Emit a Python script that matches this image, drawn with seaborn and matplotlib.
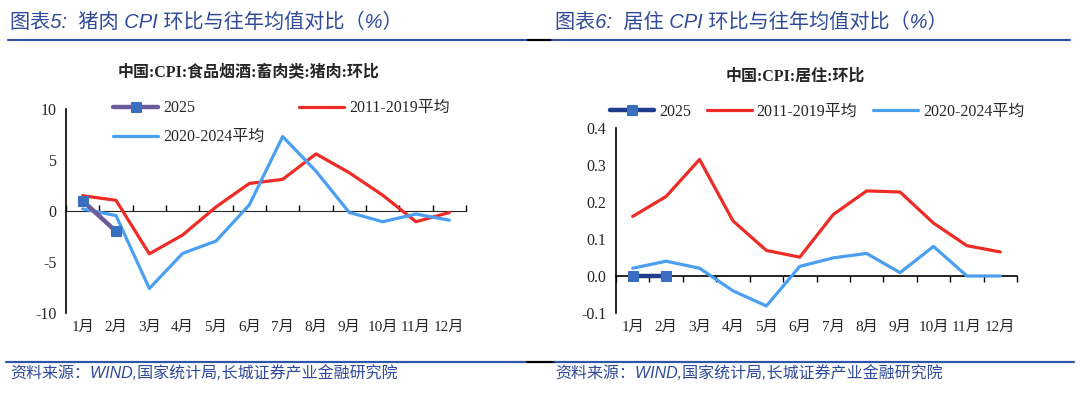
import numpy as np
import pandas as pd
import matplotlib
matplotlib.use("Agg")
import matplotlib.pyplot as plt
import seaborn as sns
from matplotlib.lines import Line2D

# ---- data ----
months = ["1月", "2月", "3月", "4月", "5月", "6月", "7月", "8月", "9月", "10月", "11月", "12月"]

pork_2025 = [1.0, -2.0]
pork_2011_2019 = [1.5, 1.05, -4.2, -2.35, 0.4, 2.7, 3.1, 5.6, 3.75, 1.55, -1.05, -0.15]
pork_2020_2024 = [0.2, -0.45, -7.6, -4.15, -2.95, 0.6, 7.3, 3.9, -0.15, -1.05, -0.3, -0.9]

house_2025 = [0.0, 0.0]
house_2011_2019 = [0.161, 0.215, 0.315, 0.149, 0.069, 0.051, 0.166, 0.230, 0.227, 0.143, 0.082, 0.065]
house_2020_2024 = [0.021, 0.040, 0.021, -0.040, -0.081, 0.026, 0.049, 0.061, 0.009, 0.080, 0.0, 0.0]

header_left = "图表5:  猪肉 CPI 环比与往年均值对比（%）"
header_right = "图表6:  居住 CPI 环比与往年均值对比（%）"
source = "资料来源：WIND,国家统计局,长城证券产业金融研究院"

RED = "#ee2b24"
LBLUE = "#4a9ff0"
NAVY = "#2f4a9a"

sns.set_style("white")
plt.rcParams["font.family"] = ["Liberation Serif", "Noto Sans CJK SC", "DejaVu Sans"]

W, H = 1080, 393
fig = plt.figure(figsize=(W / 100, H / 100), dpi=100)


def px_axes(x0, y_top, x1, y_bot):
    return fig.add_axes([x0 / W, 1 - y_bot / H, (x1 - x0) / W, (y_bot - y_top) / H])


def style_axes(ax, ylim, yticks, ylabels, zero_frac):
    x = np.arange(1, 13)
    ax.set_xlim(0.5, 12.5)
    ax.set_ylim(*ylim)
    ax.set_xticks(x)
    ax.set_xticklabels(months, fontsize=11)
    ax.tick_params(axis="x", length=0, pad=6)
    ax.set_yticks(yticks)
    ax.set_yticklabels(ylabels, fontsize=11.5)
    ax.tick_params(axis="y", direction="out", length=4, width=1, color="black", pad=3)
    for s in ["top", "right", "bottom"]:
        ax.spines[s].set_visible(False)
    ax.spines["left"].set_color("black")
    ax.spines["left"].set_linewidth(1.2)
    # zero axis with category tick marks
    sec = ax.secondary_xaxis(zero_frac)
    sec.set_xticks(np.arange(0.5, 13.0, 1.0))
    sec.set_xticklabels([])
    sec.tick_params(direction="out", length=4, width=1, color="black")
    sec.spines["bottom"].set_color("black")
    sec.spines["bottom"].set_linewidth(1.2)
    ax.set_xlabel("")
    ax.set_ylabel("")


# ---- left chart ----
axL = px_axes(66, 109, 466, 313)
x = np.arange(1, 13)
sns.lineplot(x=x, y=pork_2011_2019, ax=axL, color=RED, lw=2.3, label="2011-2019平均")
sns.lineplot(x=x, y=pork_2020_2024, ax=axL, color=LBLUE, lw=2.3, label="2020-2024平均")
sns.lineplot(x=x[:2], y=pork_2025, ax=axL, color="#6c5b9b", lw=3.2, marker="s",
             markersize=7, markerfacecolor="#3a6fc0", markeredgecolor="#3a6fc0", label="2025")
style_axes(axL, (-10, 10), [-10, -5, 0, 5, 10], ["-10", "-5", "0", "5", "10"], 0.5)
axL.get_legend().remove()
h, l = axL.get_legend_handles_labels()
order = [2, 1, 0]
fig.legend([h[i] for i in order], [l[i] for i in order], ncol=2, frameon=False,
           loc="upper left", bbox_to_anchor=(99 / W, 1 - 86 / H), fontsize=11.5,
           handlelength=2.8, columnspacing=2.2, labelspacing=0.8, handletextpad=0.3)
fig.text(249 / W, 1 - 73 / H, "中国:CPI:食品烟酒:畜肉类:猪肉:环比", ha="center", va="center",
         fontsize=11.5, fontweight="bold")

# ---- right chart ----
axR = px_axes(616, 128, 1017, 313)
sns.lineplot(x=x, y=house_2011_2019, ax=axR, color=RED, lw=2.3, label="2011-2019平均")
sns.lineplot(x=x, y=house_2020_2024, ax=axR, color=LBLUE, lw=2.3, label="2020-2024平均")
sns.lineplot(x=x[:2], y=house_2025, ax=axR, color="#1f3d8c", lw=3.2, marker="s",
             markersize=7, markerfacecolor="#3a6fc0", markeredgecolor="#3a6fc0", label="2025")
style_axes(axR, (-0.1, 0.4), [-0.1, 0.0, 0.1, 0.2, 0.3, 0.4],
           ["-0.1", "0.0", "0.1", "0.2", "0.3", "0.4"], 0.2)
axR.get_legend().remove()
h, l = axR.get_legend_handles_labels()
fig.legend([h[i] for i in [2, 0, 1]], [l[i] for i in [2, 0, 1]], ncol=3, frameon=False,
           loc="center", bbox_to_anchor=(817 / W, 1 - 112 / H), fontsize=11.5,
           handlelength=2.8, columnspacing=1.0, handletextpad=0.3)
fig.text(795 / W, 1 - 77 / H, "中国:CPI:居住:环比", ha="center", va="center",
         fontsize=11.5, fontweight="bold")

# ---- headers / footers ----
for xt, txt in [(10, header_left), (555, header_right)]:
    fig.text(xt / W, 1 - 22 / H, txt, ha="left", va="center", fontsize=14.5,
             color=NAVY, style="italic",
             family=["Liberation Sans", "Noto Sans CJK SC", "DejaVu Sans"])
    fig.text(xt / W, 1 - 373 / H, source, ha="left", va="center", fontsize=11.5,
             color=NAVY, style="italic",
             family=["Liberation Sans", "Noto Sans CJK SC", "DejaVu Sans"])

for (xa, xb, c) in [(8, 528, "#2e55a8"), (528, 552, "black"), (552, 1070, "#2e55a8")]:
    fig.add_artist(Line2D([xa / W, xb / W], [1 - 40 / H, 1 - 40 / H], color=c, lw=1.6))
for (xa, xb, c) in [(6, 527, "#2e55a8"), (527, 555, "black"), (555, 1074, "#2e55a8")]:
    fig.add_artist(Line2D([xa / W, xb / W], [1 - 362 / H, 1 - 362 / H], color=c, lw=1.6))

fig.savefig("out.png", dpi=100)
